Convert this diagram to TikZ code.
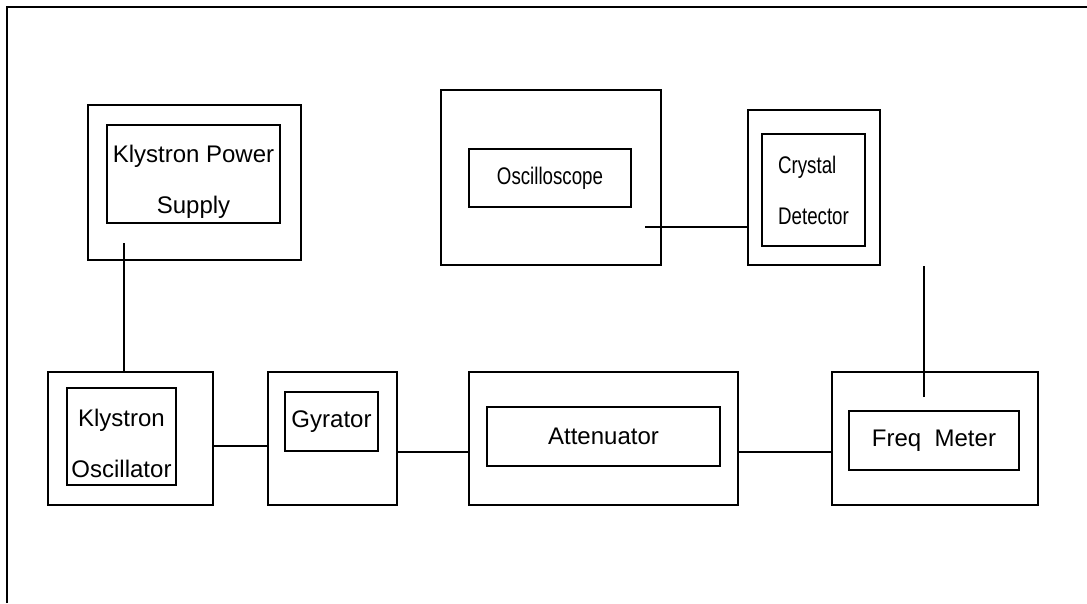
\documentclass[tikz,border=0pt]{standalone}
\usepackage{fontspec}
\setsansfont{Liberation Sans}
\usetikzlibrary{positioning}
\newcommand{\narrowtext}[1]{\scalebox{0.78}[1]{#1}}
\tikzset{%
    base/.style = {
        rectangle, draw=black, inner sep=0pt, text centered,
        font=\sffamily\fontsize{24}{51}\selectfont
    },
    outerBox/.style = {base, line width=1.1pt},
    innerBox/.style = {base, line width=1.8pt},
    wire/.style = {line width=1.5pt},
}

\begin{document}
\begin{tikzpicture}[x=1pt, y=-1pt, align=center]
        \useasboundingbox (0,0) rectangle (1087,603);
        % Frame
        \draw[line width=1.2pt] (7,603) -- (7,7) -- (1087,7);

        % Nodes position
        \node (kpsOut) [outerBox, minimum width=213, minimum height=155]
                            at (194.5,182.5) {};
        \node (kpsIn)  [innerBox, minimum width=173, minimum height=98]
                            at (193.5,174) {\rule{0pt}{33pt}Klystron Power\\Supply};

        \node (koOut)  [outerBox, minimum width=165, minimum height=133]
                            at (130.5,438.5) {};
        \node (koIn)   [innerBox, minimum width=109, minimum height=97]
                            at (121.5,436.5) {\rule{0pt}{31pt}Klystron\\Oscillator};

        \node (gyrOut) [outerBox, minimum width=129, minimum height=133]
                            at (332.5,438.5) {};
        \node (gyrIn)  [innerBox, minimum width=93, minimum height=59]
                            at (331.5,421.5) {Gyrator};

        \node (attOut) [outerBox, minimum width=269, minimum height=133]
                            at (603.5,438.5) {};
        \node (attIn)  [innerBox, minimum width=233, minimum height=59]
                            at (603.5,436.5) {Attenuator};

        \node (fmOut)  [outerBox, minimum width=206, minimum height=133]
                            at (935,438.5) {};
        \node (fmIn)   [innerBox, minimum width=170, minimum height=59]
                            at (934,440.5) {Freq\ \ Meter};

        \node (oscOut) [outerBox, minimum width=220, minimum height=175]
                            at (551,177.5) {};
        \node (oscIn)  [innerBox, minimum width=162, minimum height=58]
                            at (550,178) {\narrowtext{Oscilloscope}};

        \node (cdOut)  [outerBox, minimum width=132, minimum height=155]
                            at (814,187.5) {};
        \node (cdIn)   [innerBox, minimum width=103, minimum height=112, align=left]
                            at (813.5,190) {\narrowtext{Crystal}\\\narrowtext{Detector}};

        % Wire ends inside the boxes
        \coordinate (kpsTap) at (124,243);
        \coordinate (oscTap) at (645,227);
        \coordinate (fmTap)  at (924,397);

        % Wire specification
        \draw[wire] (kpsTap) -- (kpsTap |- koOut.north);
        \draw[wire] ([yshift=-7.5pt]koOut.east) -- ([yshift=-7.5pt]gyrOut.west);
        \draw[wire] ([yshift=-13.5pt]gyrOut.east) -- ([yshift=-13.5pt]attOut.west);
        \draw[wire] ([yshift=-13.5pt]attOut.east) -- ([yshift=-13.5pt]fmOut.west);
        \draw[wire] (oscTap) -- (oscTap -| cdOut.west);
        \draw[wire] (fmTap) -- (fmTap |- cdOut.south);
    \end{tikzpicture}
\end{document}
